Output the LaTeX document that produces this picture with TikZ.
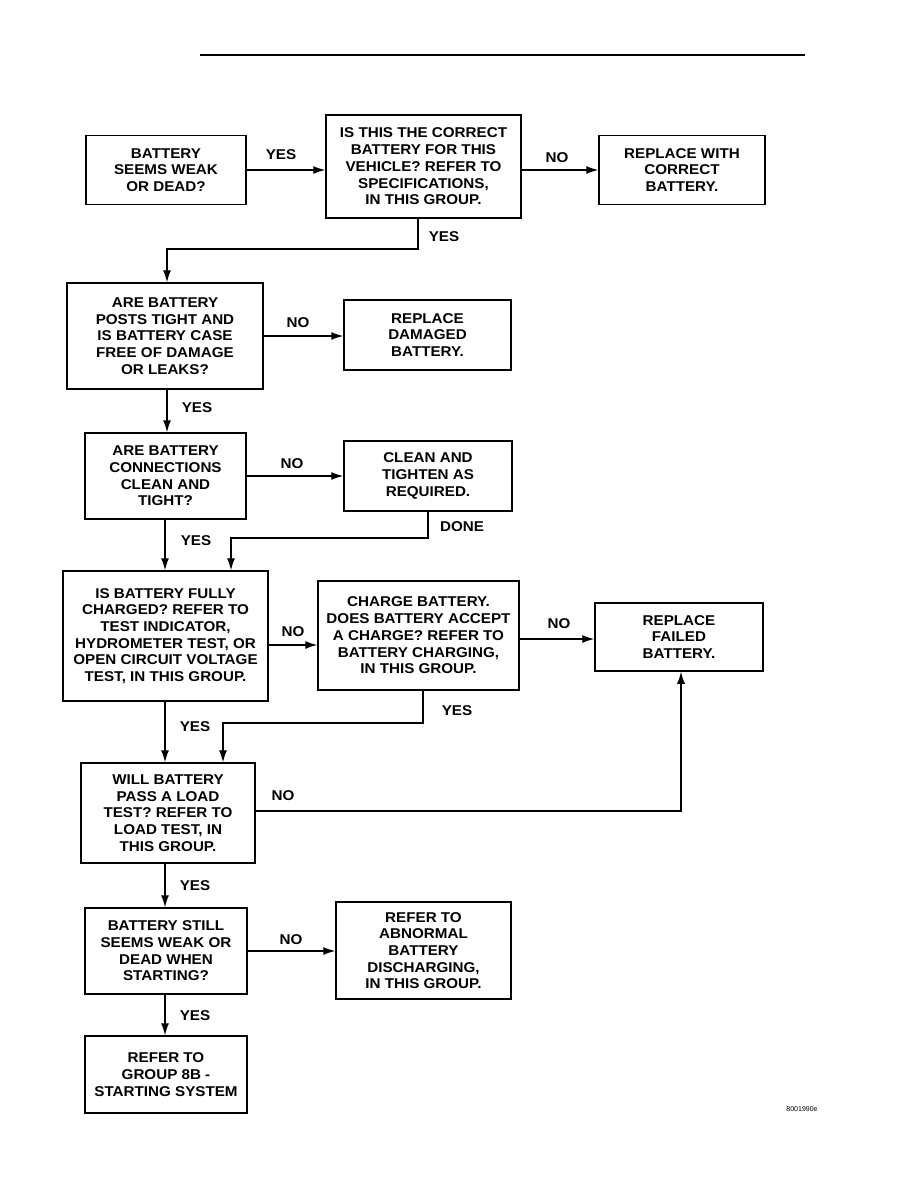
\documentclass[tikz,border=0pt]{standalone}
\usepackage{fontspec}
\setmainfont{Liberation Sans}
\newfontfamily\boxfont{Liberation Sans}[FakeStretch=1.07]
\usetikzlibrary{arrows.meta}
\tikzset{
  fbox/.style={draw, line width=1.5pt, align=center, inner sep=0pt,
    font=\boxfont\bfseries\fontsize{14.2}{16.7}\selectfont},
  lbl/.style={inner sep=0pt, font=\boxfont\bfseries\fontsize{14.2}{16.7}\selectfont},
  arr/.style={line width=1.2pt, -{Latex[length=12pt,width=8pt]}},
}
\begin{document}
\begin{tikzpicture}[x=1pt,y=-1pt]
\useasboundingbox (0,0) rectangle (918,1188);
% top rule
\coordinate (r1) at (200,55);
\coordinate (r2) at (805,55);
\draw[line width=2.6pt] (r1) -- (r2);

% boxes
\node[fbox, minimum width=160, minimum height=69] (A) at (166,170) {BATTERY\\SEEMS WEAK\\OR DEAD?};
\node[fbox, minimum width=195, minimum height=103] (B) at (423.5,166.5) {IS THIS THE CORRECT\\BATTERY FOR THIS\\VEHICLE? REFER TO\\SPECIFICATIONS,\\IN THIS GROUP.};
\node[fbox, minimum width=166, minimum height=69] (C) at (682,170) {REPLACE WITH\\CORRECT\\BATTERY.};
\node[fbox, minimum width=196, minimum height=106] (D) at (165,336) {ARE BATTERY\\POSTS TIGHT AND\\IS BATTERY CASE\\FREE OF DAMAGE\\OR LEAKS?};
\node[fbox, minimum width=167, minimum height=70] (E) at (427.5,335) {REPLACE\\DAMAGED\\BATTERY.};
\node[fbox, minimum width=161, minimum height=86] (F) at (165.5,476) {ARE BATTERY\\CONNECTIONS\\CLEAN AND\\TIGHT?};
\node[fbox, minimum width=168, minimum height=70] (G) at (428,476) {CLEAN AND\\TIGHTEN AS\\REQUIRED.};
\node[fbox, minimum width=205, minimum height=130] (H) at (165.5,636) {IS BATTERY FULLY\\CHARGED? REFER TO\\TEST INDICATOR,\\HYDROMETER TEST, OR\\OPEN CIRCUIT VOLTAGE\\TEST, IN THIS GROUP.};
\node[fbox, minimum width=201, minimum height=109] (I) at (418.5,635.5) {CHARGE BATTERY.\\DOES BATTERY ACCEPT\\A CHARGE? REFER TO\\BATTERY CHARGING,\\IN THIS GROUP.};
\node[fbox, minimum width=168, minimum height=68] (J) at (679,637) {REPLACE\\FAILED\\BATTERY.};
\node[fbox, minimum width=174, minimum height=100] (K) at (168,813) {WILL BATTERY\\PASS A LOAD\\TEST? REFER TO\\LOAD TEST, IN\\THIS GROUP.};
\node[fbox, minimum width=162, minimum height=86] (L) at (166,951) {BATTERY STILL\\SEEMS WEAK OR\\DEAD WHEN\\STARTING?};
\node[fbox, minimum width=175, minimum height=97] (M) at (423.5,950.5) {REFER TO\\ABNORMAL\\BATTERY\\DISCHARGING,\\IN THIS GROUP.};
\node[fbox, minimum width=162, minimum height=77] (N) at (166,1074.5) {REFER TO\\GROUP 8B -\\STARTING SYSTEM};

% labels
\node[lbl] (l1) at (281,155) {YES};
\node[lbl] (l2) at (557,158) {NO};
\node[lbl] (l3) at (444,237) {YES};
\node[lbl] (l4) at (298,323) {NO};
\node[lbl] (l5) at (197,408) {YES};
\node[lbl] (l6) at (292,464) {NO};
\node[lbl] (l7) at (462,527) {DONE};
\node[lbl] (l8) at (196,541) {YES};
\node[lbl] (l9) at (293,632) {NO};
\node[lbl] (l10) at (559,624) {NO};
\node[lbl] (l11) at (457,711) {YES};
\node[lbl] (l12) at (195,727) {YES};
\node[lbl] (l13) at (283,796) {NO};
\node[lbl] (l14) at (195,886) {YES};
\node[lbl] (l15) at (291,940) {NO};
\node[lbl] (l16) at (195,1016) {YES};

\node[inner sep=0pt, font=\fontsize{7}{8}\selectfont] (code) at (802,1109) {8001990e};

% helper coordinates
\coordinate (b1) at (418,249);
\coordinate (b2) at (167,249);
\coordinate (g1) at (428,538);
\coordinate (g2) at (231,538);
\coordinate (hi) at (293,645);
\coordinate (ij) at (557,639);
\coordinate (i1) at (423,723);
\coordinate (i2) at (223,723);
\coordinate (k1) at (681,811);
\coordinate (vx) at (165,0);

% connectors
\draw[arr] (A.east) -- (A.east -| B.west);
\draw[arr] (C.west -| B.east) -- (C.west);
\draw[arr] (b1 |- B.south) -- (b1) -- (b2) -- (b2 |- D.north);
\draw[arr] (D.east) -- (D.east -| E.west);
\draw[arr] (b2 |- D.south) -- (b2 |- F.north);
\draw[arr] (F.east) -- (F.east -| G.west);
\draw[arr] (g1 |- G.south) -- (g1) -- (g2) -- (g2 |- H.north);
\draw[arr] (vx |- F.south) -- (vx |- H.north);
\draw[arr] (hi -| H.east) -- (hi -| I.west);
\draw[arr] (ij -| I.east) -- (ij -| J.west);
\draw[arr] (i1 |- I.south) -- (i1) -- (i2) -- (i2 |- K.north);
\draw[arr] (vx |- H.south) -- (vx |- K.north);
\draw[arr] (k1 -| K.east) -- (k1) -- (k1 |- J.south);
\draw[arr] (vx |- K.south) -- (vx |- L.north);
\draw[arr] (L.east) -- (L.east -| M.west);
\draw[arr] (vx |- L.south) -- (vx |- N.north);
\end{tikzpicture}
\end{document}
